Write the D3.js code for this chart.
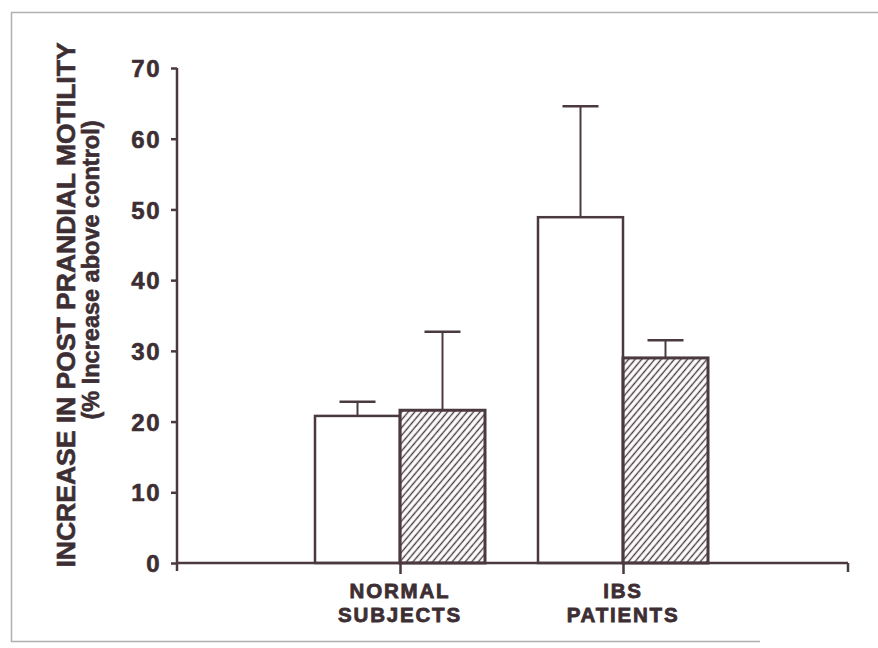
<!DOCTYPE html>
<html><head><meta charset="utf-8">
<script src="https://cdn.jsdelivr.net/npm/d3@7"></script>
<style>
html,body{margin:0;padding:0;background:#fff;}
svg{display:block;}
text{font-family:"Liberation Sans",Arial,Helvetica,sans-serif;font-weight:bold;fill:#3d2e33;stroke:#3d2e33;stroke-width:0.6px;}
</style></head>
<body>
<svg id="chart" width="878" height="648"></svg>
<script>
// ---- data ----
const categories = ["NORMAL SUBJECTS", "IBS PATIENTS"];
const categoryLines = [["NORMAL", "SUBJECTS"], ["IBS", "PATIENTS"]];
const series = ["control", "treatment"];
const controlValues = [20.8, 48.9];
const controlErrors = [2.0, 15.7];
const treatmentValues = [21.6, 29.0];
const treatmentErrors = [11.1, 2.5];
const yTicks = [0, 10, 20, 30, 40, 50, 60, 70];
const yTitle1 = "INCREASE IN POST PRANDIAL MOTILITY";
const yTitle2 = "(% Increase above control)";

const ink = "#4a3a40";
const svg = d3.select("#chart");

// frame
svg.append("path")
  .attr("d", "M878,12.5H11.5V641.5H760")
  .attr("fill", "none").attr("stroke", "#b0b0b0").attr("stroke-width", 1.5);

// pattern for hatched bars
const defs = svg.append("defs");
const pat = defs.append("pattern")
  .attr("id", "hatch").attr("patternUnits", "userSpaceOnUse")
  .attr("width", 5).attr("height", 10)
  .attr("patternTransform", "rotate(40)");
pat.append("line").attr("x1", 2.5).attr("y1", -1).attr("x2", 2.5).attr("y2", 11)
  .attr("stroke", ink).attr("stroke-width", 1.4);

// scales
const y = d3.scaleLinear().domain([0, 70]).range([563, 68]);
const xCat = d3.scalePoint().domain(categories).range([400, 623]);
const xSub = d3.scaleBand().domain(series).range([-85, 85]).padding(0);

// rows
const rows = categories.map((c, i) => ({
  cat: c,
  bars: [
    {s: "control", v: controlValues[i], e: controlErrors[i]},
    {s: "treatment", v: treatmentValues[i], e: treatmentErrors[i]}
  ]
}));

// error bars
const g = svg.append("g");
rows.forEach(r => {
  r.bars.forEach(b => {
    const cx = xCat(r.cat) + xSub(b.s) + xSub.bandwidth() / 2;
    g.append("line").attr("x1", cx).attr("x2", cx)
      .attr("y1", y(b.v)).attr("y2", y(b.v + b.e))
      .attr("stroke", ink).attr("stroke-width", 2);
    g.append("line").attr("x1", cx - 18).attr("x2", cx + 18)
      .attr("y1", y(b.v + b.e)).attr("y2", y(b.v + b.e))
      .attr("stroke", ink).attr("stroke-width", 2.5);
  });
});

// bars
rows.forEach(r => {
  r.bars.forEach(b => {
    g.append("rect")
      .attr("x", xCat(r.cat) + xSub(b.s))
      .attr("y", y(b.v))
      .attr("width", xSub.bandwidth())
      .attr("height", y(0) - y(b.v))
      .attr("fill", b.s === "control" ? "#fff" : "url(#hatch)")
      .attr("stroke", ink)
      .attr("stroke-width", b.s === "control" ? 2.5 : 3);
  });
});

// y axis
const yAxis = d3.axisLeft(y).tickValues(yTicks).tickSize(6).tickPadding(10)
  .tickFormat(d3.format("d"));
const ya = svg.append("g").attr("transform", "translate(177,0)").call(yAxis);
ya.select(".domain").remove();
ya.append("line").attr("x1", 0).attr("x2", 0).attr("y1", y(70)).attr("y2", 571)
  .attr("stroke", ink).attr("stroke-width", 2.5);
ya.selectAll(".tick line").attr("stroke", ink).attr("stroke-width", 2.5);
ya.selectAll(".tick text").attr("font-size", 24).attr("font-weight", "bold")
  .attr("fill", "#3d2e33").attr("font-family", "Liberation Sans, Arial, sans-serif")
  .attr("dy", "0.36em").attr("letter-spacing", 1.5);

// x axis
svg.append("line").attr("x1", 177).attr("x2", 848).attr("y1", y(0)).attr("y2", y(0))
  .attr("stroke", ink).attr("stroke-width", 2.5);
svg.append("line").attr("x1", 848).attr("x2", 848).attr("y1", y(0)).attr("y2", y(0) + 9)
  .attr("stroke", ink).attr("stroke-width", 2.5);
const xAxis = d3.axisBottom(xCat).tickSize(11).tickFormat("");
const xa = svg.append("g").attr("transform", `translate(0,${y(0)})`).call(xAxis);
xa.select(".domain").remove();
xa.selectAll(".tick line").attr("stroke", ink).attr("stroke-width", 2.5);

// category labels
categories.forEach((c, i) => {
  categoryLines[i].forEach((ln, j) => {
    svg.append("text").attr("text-anchor", "middle").attr("font-size", 20.5)
      .attr("letter-spacing", 1.8).style("stroke-width", "0.8px")
      .attr("x", xCat(c)).attr("y", 598 + j * 23.5).text(ln);
  });
});

// y titles
svg.append("text").attr("transform", "translate(75,305) rotate(-90)")
  .attr("text-anchor", "middle").attr("font-size", 26.5).text(yTitle1);
svg.append("text").attr("transform", "translate(99,270) rotate(-90)")
  .attr("text-anchor", "middle").attr("font-size", 23.5).text(yTitle2);
</script>
</body></html>
